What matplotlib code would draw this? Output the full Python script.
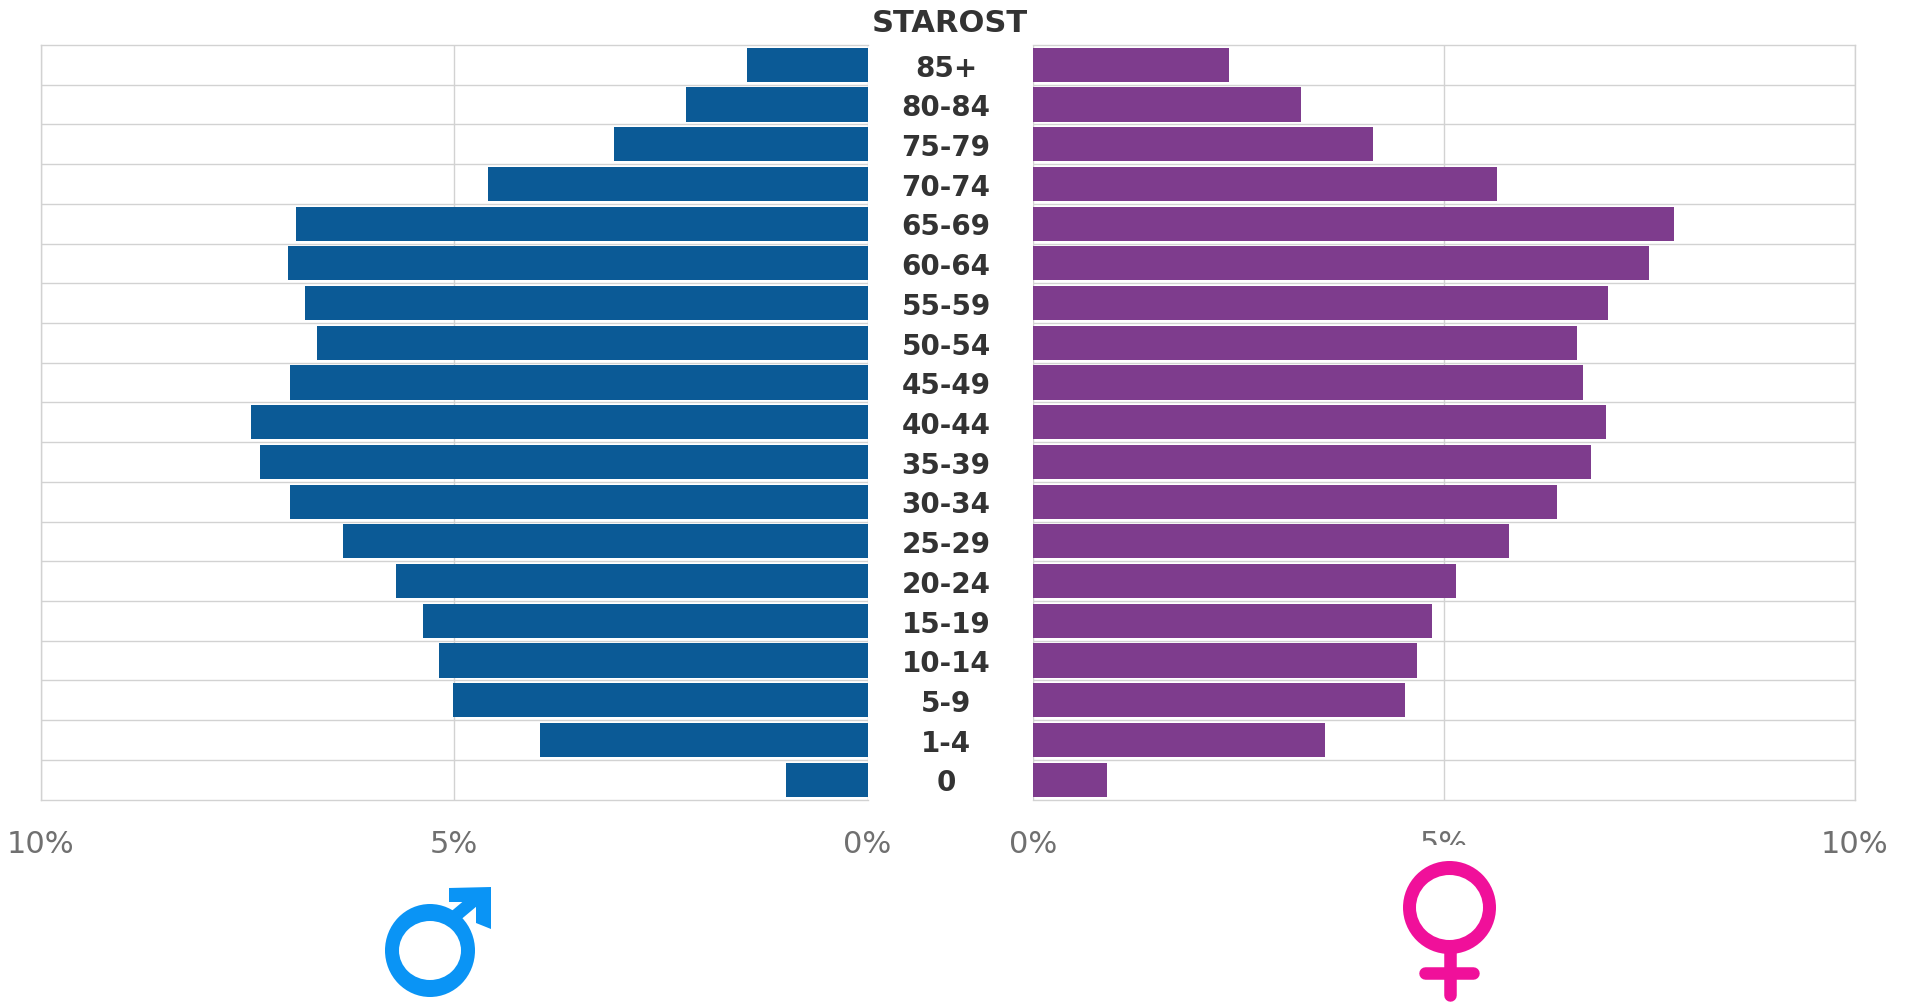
import numpy as np
import matplotlib
matplotlib.use("Agg")
import matplotlib.pyplot as plt
from matplotlib.patches import Ellipse, Rectangle, Polygon
from matplotlib.lines import Line2D
from matplotlib.transforms import blended_transform_factory

# DATA SECTION------------------------------------------------------------------
ages = ["85+","80-84","75-79","70-74","65-69","60-64","55-59","50-54","45-49","40-44",
        "35-39","30-34","25-29","20-24","15-19","10-14","5-9","1-4","0"]
men = [1.46,2.19,3.07,4.59,6.91,7.01,6.81,6.66,6.99,7.46,7.35,6.99,6.35,5.71,5.38,5.18,5.01,3.96,0.99]
women = [2.38,3.26,4.14,5.64,7.80,7.49,7.00,6.62,6.69,6.97,6.79,6.38,5.79,5.14,4.86,4.67,4.53,3.55,0.90]
xticks = [0,5,10]
xticklabels = ["0%","5%","10%"]

W = 1905; H = 1004
BLUE = "#0b5a96"; PURPLE = "#7e3c8d"; GRID = "#d2d2d2"
plt.rcParams['font.family'] = ['DejaVu Sans']

def axes_px(x0,y0,x1,y1):
    return fig.add_axes([x0/W,1-y1/H,(x1-x0)/W,(y1-y0)/H])

# AXES SECTION------------------------------------------------------------------
fig = plt.figure(figsize=(W/100,H/100),dpi=100)
axl = axes_px(41,46,867.5,800.5)
axr = axes_px(1033,46,1855,800.5)
y = np.arange(len(ages))

for ax,vals,col in [(axl,men,BLUE),(axr,women,PURPLE)]:
    ax.barh(y,vals,height=0.86,color=col,zorder=3)
    ax.set_ylim(len(ages)-0.5,-0.5)
    ax.set_yticks(y[:-1]+0.5)
    ax.set_yticklabels([])
    ax.set_xticks(xticks)
    ax.set_xticklabels(xticklabels,fontsize=22,color="#707070")
    ax.tick_params(length=0,pad=21)
    ax.grid(True,color=GRID,linewidth=1.0,zorder=0)
    ax.set_axisbelow(True)
    for s in ax.spines.values():
        s.set_color(GRID); s.set_linewidth(1.0)
axl.set_xlim(10,0)
axr.set_xlim(0,10)
axl.spines['right'].set_visible(False)
axr.spines['left'].set_visible(False)

# the female sign sits over the lower half of the right 5% label
clip = Rectangle((0,H-846),W,200,transform=None)
for lab in axr.get_xticklabels():
    if lab.get_text()=="5%":
        lab.set_clip_path(clip); lab.set_clip_on(True)

# CENTRE LABELS SECTION---------------------------------------------------------
tr = blended_transform_factory(fig.transFigure,axl.transData)
for yy,name in zip(y,ages):
    axl.text(946/W,yy+0.07,name,transform=tr,ha="center",va="center",clip_on=False,
             fontsize=20,fontweight="bold",color="#333333")
fig.text(950/W,1-24/H,"STAROST",ha="center",va="center",fontsize=22,
         fontweight="bold",color="#333333")

# GENDER SIGNS SECTION----------------------------------------------------------
ov = fig.add_axes([0,0,1,1])
ov.set_xlim(0,W); ov.set_ylim(H,0); ov.axis("off"); ov.patch.set_alpha(0)

def sign_line(xs,ys,col,lw):
    ov.add_line(Line2D(xs,ys,color="white",lw=lw+4,solid_capstyle="round",zorder=2))
    ov.add_line(Line2D(xs,ys,color=col,lw=lw,solid_capstyle="round",zorder=4))

def ring(cx,cy,w,h,hw,hh,col):
    ov.add_patch(Ellipse((cx,cy),w+8,h+8,fc="white",ec="none",zorder=3))
    ov.add_patch(Ellipse((cx,cy),w,h,fc=col,ec="none",zorder=5))
    ov.add_patch(Ellipse((cx,cy),hw,hh,fc="white",ec="none",zorder=6))

# male
MC = "#0a94f5"
sign_line([453,478],[919,898],MC,9)
ov.add_patch(Polygon([[449,889],[491,888],[491,930],[476,924],[476,903],[449,903]],closed=True,fc=MC,ec="none",zorder=4))
ring(430,951.5,90,93,62,59,MC)

# female
FC = "#f0109a"
sign_line([1449.5,1449.5],[950,996],FC,9)
sign_line([1425,1473],[974,974],FC,9)
ring(1449.5,908.5,93,93,67,65,FC)

fig.savefig("out.png",dpi=100)
